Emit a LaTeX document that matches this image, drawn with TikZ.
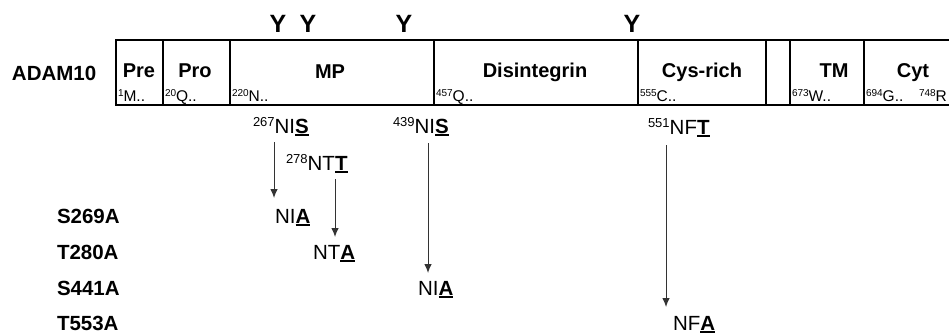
\documentclass[tikz,border=0pt]{standalone}
\usepackage{fontspec}
\setmainfont{Liberation Sans}
\usetikzlibrary{arrows.meta}
\newcommand\myul[1]{\setbox0\hbox{#1}\rlap{\rule[-2.6pt]{\wd0}{1.6pt}}\box0}
\newcommand\seqsup[1]{\raisebox{7pt}{\fontsize{13}{13}\selectfont #1}}
\newcommand\possup[1]{\raisebox{5pt}{\fontsize{10}{10}\selectfont #1}}
\begin{document}
\begin{tikzpicture}[x=1pt,y=-1pt,
  every node/.style={inner sep=0pt, outer sep=0pt},
  dombox/.style={draw=black, line width=2pt, anchor=north west, minimum height=65pt},
  domlab/.style={anchor=base, font=\fontsize{20}{20}\selectfont\bfseries},
  poslab/.style={anchor=base west, font=\fontsize{15.5}{15.5}\selectfont},
  glyc/.style={anchor=base, font=\fontsize{25}{25}\selectfont\bfseries},
  seqlab/.style={anchor=base west, font=\fontsize{20.5}{20.5}\selectfont},
  mutlab/.style={anchor=base west, font=\fontsize{20.5}{20.5}\selectfont\bfseries},
  arr/.style={draw=black!80, line width=1pt, -{Latex[length=9pt,width=7.5pt]}}]
\useasboundingbox (0,0) rectangle (949,334);
\clip (0,0) rectangle (949,334);

% protein label
\node[anchor=base west, font=\fontsize{20.5}{20.5}\selectfont\bfseries] (adam) at (12,81) {ADAM10};

% domain boxes
\node[dombox, minimum width=47pt]  (bpre) at (116,40) {};
\node[dombox, minimum width=67pt]  (bpro) at (163,40) {};
\node[dombox, minimum width=204pt] (bmp)  at (230,40) {};
\node[dombox, minimum width=204pt] (bdis) at (434,40) {};
\node[dombox, minimum width=128pt] (bcys) at (638,40) {};
\node[dombox, minimum width=24pt]  (bgap) at (766,40) {};
\node[dombox, minimum width=74pt]  (btm)  at (790,40) {};
\node[dombox, minimum width=110pt] (bcyt) at (864,40) {};

% domain names
\node[domlab] (lpre) at (139,78) {Pre};
\node[domlab] (lpro) at (195,78) {Pro};
\node[domlab] (lmp)  at (330,79) {MP};
\node[domlab] (ldis) at (535,78) {Disintegrin};
\node[domlab] (lcys) at (702,78) {Cys-rich};
\node[domlab] (ltm)  at (834,78) {TM};
\node[domlab] (lcyt) at (913,78) {Cyt};

% residue positions
\node[poslab] (p1)   at (118,102) {\possup{1}M..};
\node[poslab] (p20)  at (165,102) {\possup{20}Q..};
\node[poslab] (p220) at (232,102) {\possup{220}N..};
\node[poslab] (p457) at (436,102) {\possup{457}Q..};
\node[poslab] (p555) at (640,102) {\possup{555}C..};
\node[poslab] (p673) at (792,102) {\possup{673}W..};
\node[poslab] (p694) at (866,102) {\possup{694}G..};
\node[poslab] (p748) at (919,102) {\possup{748}R};

% glycosylation marks
\node[glyc] (y1) at (278,33) {Y};
\node[glyc] (y2) at (308,33) {Y};
\node[glyc] (y3) at (404,33) {Y};
\node[glyc] (y4) at (632,33) {Y};

% sequons
\node[seqlab] (s267) at (253,133) {\seqsup{267}NI\myul{\textbf{S}}};
\node[seqlab] (s278) at (286,170) {\seqsup{278}NT\myul{\textbf{T}}};
\node[seqlab] (s439) at (393,133) {\seqsup{439}NI\myul{\textbf{S}}};
\node[seqlab] (s551) at (648,134) {\seqsup{551}NF\myul{\textbf{T}}};

% mutated sequons
\node[seqlab] (m269) at (275,223) {NI\myul{\textbf{A}}};
\node[seqlab] (m280) at (313,259) {NT\myul{\textbf{A}}};
\node[seqlab] (m441) at (418,295) {NI\myul{\textbf{A}}};
\node[seqlab] (m553) at (673,330) {NF\myul{\textbf{A}}};

% mutant names
\node[mutlab] (n269) at (57,223) {S269A};
\node[mutlab] (n280) at (57,259) {T280A};
\node[mutlab] (n441) at (57,295) {S441A};
\node[mutlab] (n553) at (57,330) {T553A};

% arrows
\coordinate (a1s) at (274,142); \coordinate (a1e) at (274,198);
\coordinate (a2s) at (335,179); \coordinate (a2e) at (335,237);
\coordinate (a3s) at (428,143); \coordinate (a3e) at (428,273);
\coordinate (a4s) at (666,145); \coordinate (a4e) at (666,307);
\draw[arr] (a1s) -- (a1e);
\draw[arr] (a2s) -- (a2e);
\draw[arr] (a3s) -- (a3e);
\draw[arr] (a4s) -- (a4e);
\end{tikzpicture}
\end{document}
